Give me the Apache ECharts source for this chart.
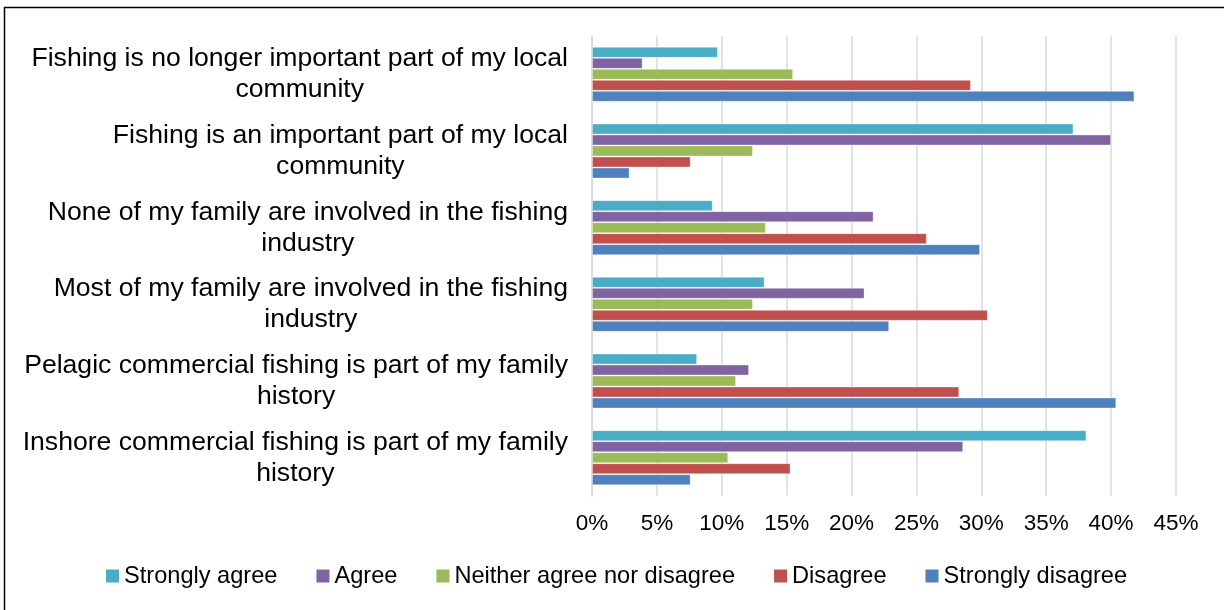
<!DOCTYPE html>
<html>
<head>
<meta charset="utf-8">
<title>Attitudes to fishing</title>
<script src="https://cdn.jsdelivr.net/npm/echarts@6/dist/echarts.min.js"></script>
<style>
  html, body { margin: 0; padding: 0; background: #fff; }
  #chart { width: 1224px; height: 610px; }
</style>
</head>
<body>
<div id="chart"></div>
<script>
// Statements, listed bottom to top as they appear on the category axis
const statements = [
  'Inshore commercial fishing is part of my family\nhistory',
  'Pelagic commercial fishing is part of my family\nhistory',
  'Most of my family are involved in the fishing\nindustry',
  'None of my family are involved in the fishing\nindustry',
  'Fishing is an important part of my local\ncommunity',
  'Fishing is no longer important part of my local\ncommunity'
];

// Share of respondents (%) per answer, same order as statements
const stronglyAgree    = [38.1,  8.1, 13.3,  9.3, 37.1,  9.7];
const agree            = [28.6, 12.1, 21.0, 21.7, 40.0,  3.9];
const neither          = [10.5, 11.1, 12.4, 13.4, 12.4, 15.5];
const disagree         = [15.3, 28.3, 30.5, 25.8,  7.6, 29.2];
const stronglyDisagree = [ 7.6, 40.4, 22.9, 29.9,  2.9, 41.8];

const answerNames = ['Strongly agree', 'Agree', 'Neither agree nor disagree', 'Disagree', 'Strongly disagree'];
const answerValues = [stronglyAgree, agree, neither, disagree, stronglyDisagree];
const answerColors = ['#4BACC6', '#8064A2', '#9BBB59', '#C0504D', '#4F81BD'];

const FONT = '"Liberation Sans", Arial, sans-serif';

const chart = echarts.init(document.getElementById('chart'), null, { renderer: 'canvas' });

const series = answerNames.map((name, i) => ({
  name: name,
  type: 'bar',
  data: answerValues[i],
  barWidth: 11,
  barGap: '0%',
  itemStyle: {
    color: answerColors[i],
    borderColor: 'rgba(255,255,255,0.35)',
    borderWidth: 1
  },
  emphasis: { disabled: true }
}));

chart.setOption({
  animation: false,
  backgroundColor: '#fff',
  graphic: [{
    type: 'rect',
    shape: { x: 4.5, y: 7.5, width: 1240, height: 640 },
    style: { fill: 'none', stroke: '#000', lineWidth: 1.5 },
    silent: true,
    z: -1
  }],
  grid: { left: 592, right: 48, top: 36, bottom: 114, containLabel: false },
  legend: {
    top: 559,
    left: 101,
    icon: 'rect',
    itemWidth: 13,
    itemHeight: 13,
    itemGap: 39,
    data: answerNames,
    itemStyle: { borderWidth: 0 },
    textStyle: { fontFamily: FONT, fontSize: 23.6, color: '#000' }
  },
  xAxis: {
    type: 'value',
    min: 0,
    max: 45,
    interval: 5,
    axisLine: { show: false },
    axisTick: { show: false },
    splitLine: { lineStyle: { color: '#d9d9d9', width: 1.5 } },
    axisLabel: {
      formatter: '{value}%',
      fontFamily: FONT,
      fontSize: 22.5,
      color: '#000',
      margin: 16
    }
  },
  yAxis: {
    type: 'category',
    data: statements,
    axisLine: { show: true, lineStyle: { color: '#d9d9d9', width: 1.5 } },
    axisTick: { show: false },
    axisLabel: {
      margin: 24,
      align: 'right',
      formatter: v => v.split('\n').map(s => '{t|' + s + '}').join('\n'),
      rich: {
        t: { align: 'center', fontFamily: FONT, fontSize: 26.6, lineHeight: 31, color: '#000' }
      }
    }
  },
  series: series
});
</script>
</body>
</html>
